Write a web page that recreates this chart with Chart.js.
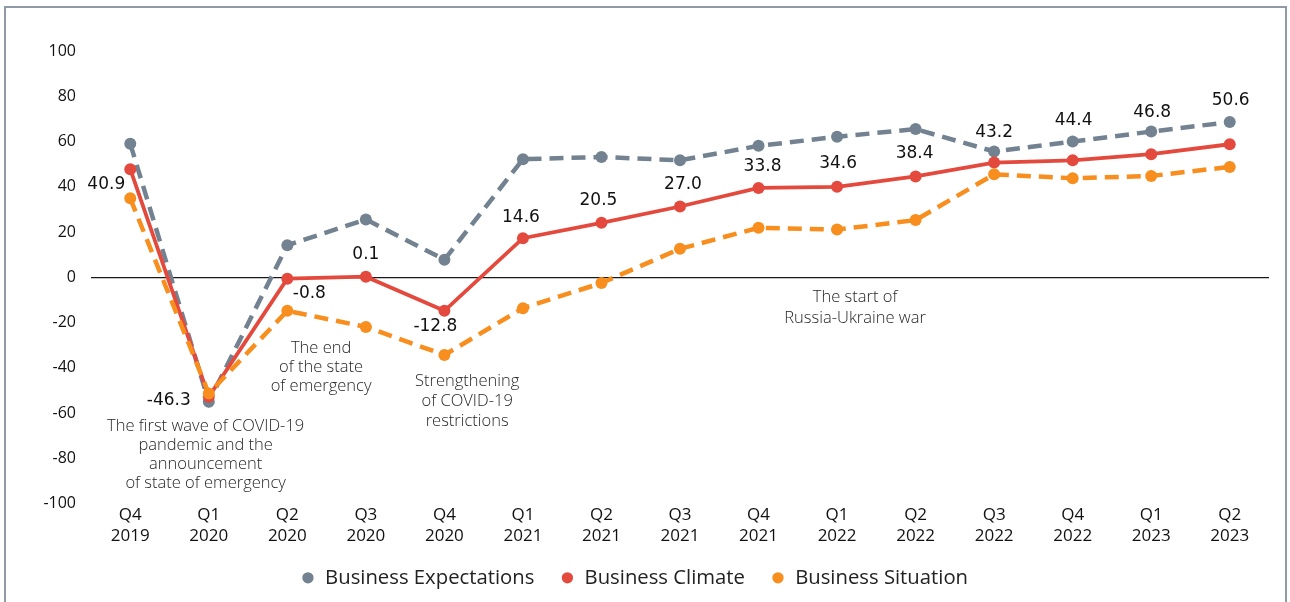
<!DOCTYPE html>
<html><head><meta charset="utf-8">
<script src="https://cdn.jsdelivr.net/npm/chart.js@4.4.0/dist/chart.umd.min.js"></script>
<style>
html,body{margin:0;padding:0;background:#fff;}
#wrap{position:relative;width:1290px;height:602px;overflow:hidden;background:#fff;}
#frame{position:absolute;left:4px;top:6px;width:1283px;height:640px;border:2px solid #8f9aa6;box-sizing:border-box;}
canvas{position:absolute;left:0;top:0;}
</style></head><body>
<div id="wrap"><div id="frame"></div><canvas id="c" width="1290" height="602"></canvas></div>
<script>
const categories = [['Q4','2019'],['Q1','2020'],['Q2','2020'],['Q3','2020'],['Q4','2020'],
  ['Q1','2021'],['Q2','2021'],['Q3','2021'],['Q4','2021'],['Q1','2022'],['Q2','2022'],
  ['Q3','2022'],['Q4','2022'],['Q1','2023'],['Q2','2023']];
const businessExpectations = [59, -55, 14.2, 25.6, 7.8, 52.2, 53.2, 51.7, 58.1, 62.1, 65.5, 55.6, 60, 64.4, 68.6];
const businessClimate = [47.8, -52.8, -0.6, 0.3, -14.8, 17.3, 24.1, 31.3, 39.5, 40, 44.6, 50.7, 51.7, 54.4, 58.8];
const businessSituation = [34.9, -51.3, -14.8, -21.9, -34.3, -13.6, -2.5, 12.6, 21.9, 21.1, 25.3, 45.5, 43.8, 44.8, 48.8];
const climateLabels = ['40.9','-46.3','-0.8','0.1','-12.8','14.6','20.5','27.0','33.8','34.6','38.4','43.2','44.4','46.8','50.6'];
const yTicks = [-100,-80,-60,-40,-20,0,20,40,60,80,100];
const annotations = [
  {lines:['The first wave of COVID-19','pandemic and the','announcement','of state of emergency'], at:0.96, v:-66, gap:18.7},
  {lines:['The end','of the state','of emergency'], at:2.43, v:-31.5, gap:18.7},
  {lines:['Strengthening','of COVID-19','restrictions'], at:4.29, v:-46, gap:20},
  {lines:['The start of','Russia-Ukraine war'], at:9.23, v:-8.6, gap:21}
];

// label placement (anchor dataset index, pixel offsets)
const labelPlacement = [
  {s:1,dx:-24,dy:15},{s:1,dx:-40,dy:4},{s:1,dx:22,dy:15},{s:1,dx:0,dy:-22},{s:1,dx:-9,dy:16},
  {s:1,dx:-2,dy:-21},{s:1,dx:-3,dy:-22},{s:1,dx:3,dy:-22},{s:1,dx:4,dy:-21},{s:1,dx:1,dy:-23},
  {s:1,dx:-1,dy:-23},{s:0,dx:0,dy:-19},{s:0,dx:1,dy:-21},{s:0,dx:1,dy:-19},{s:0,dx:1,dy:-21}
];

const GRAY='#738291', RED='#e34a3d', ORANGE='#f78e1e';
const UI_FONT = "'Open Sans', 'Noto Sans', sans-serif";

const labelsPlugin = {
  id:'valueLabels',
  afterDatasetsDraw(chart){
    const ctx = chart.ctx;
    ctx.save();
    ctx.font = "17px 'DejaVu Sans'";
    ctx.fillStyle = '#111';
    ctx.textAlign='center'; ctx.textBaseline='middle';
    climateLabels.forEach((t,i)=>{
      const p = labelPlacement[i];
      const el = chart.getDatasetMeta(p.s).data[i];
      ctx.fillText(t, el.x + p.dx, el.y + p.dy);
    });
    ctx.font = "300 16.5px " + UI_FONT;
    ctx.fillStyle = '#262626';
    const xs = chart.scales.x, ys = chart.scales.y;
    annotations.forEach(a=>{
      const x = xs.getPixelForValue(a.at), y = ys.getPixelForValue(a.v);
      a.lines.forEach((l,k)=>ctx.fillText(l, x, y + k*a.gap));
    });
    ctx.restore();
  }
};

new Chart(document.getElementById('c'), {
  type:'line',
  data:{
    labels: categories,
    datasets:[
      {label:'Business Expectations', data:businessExpectations, borderColor:GRAY, backgroundColor:GRAY,
        borderWidth:4.5, borderDash:[14,8], pointRadius:6, pointHoverRadius:6, pointBorderWidth:0, order:3, tension:0},
      {label:'Business Climate', data:businessClimate, borderColor:RED, backgroundColor:RED,
        borderWidth:3.8, pointRadius:6, pointHoverRadius:6, pointBorderWidth:0, order:2, tension:0},
      {label:'Business Situation', data:businessSituation, borderColor:ORANGE, backgroundColor:ORANGE,
        borderWidth:4.5, borderDash:[14,8], pointRadius:6, pointHoverRadius:6, pointBorderWidth:0, order:1, tension:0}
    ]
  },
  options:{
    responsive:false, animation:false,
    layout:{padding:{top:51,right:21,left:0,bottom:4}},
    plugins:{
      legend:{position:'bottom',
        labels:{usePointStyle:true, pointStyle:'circle', boxWidth:14, boxHeight:8, padding:26,
          color:'#222', font:{family:UI_FONT, size:20.3},
          sort:(a,b)=>a.datasetIndex-b.datasetIndex}},
      tooltip:{enabled:false}
    },
    scales:{
      x:{offset:true, grid:{display:false, drawTicks:false}, border:{display:false},
        ticks:{color:'#111', font:{family:UI_FONT, size:17, lineHeight:1.25}, padding:1, autoSkip:false, maxRotation:0},
        afterFit(s){ s.height = 38; }},
      y:{min:-100, max:100, afterBuildTicks(s){ s.ticks = yTicks.map(v=>({value:v})); },
        border:{display:false},
        grid:{drawTicks:false, color:c=>c.tick && c.tick.value===0 ? '#1a1a1a' : 'rgba(0,0,0,0)', lineWidth:1.2},
        ticks:{color:'#111', font:{family:UI_FONT, size:16}, padding:15},
        afterFit(s){ s.width = 91; }}
    }
  },
  plugins:[labelsPlugin]
});
</script>
</body></html>
